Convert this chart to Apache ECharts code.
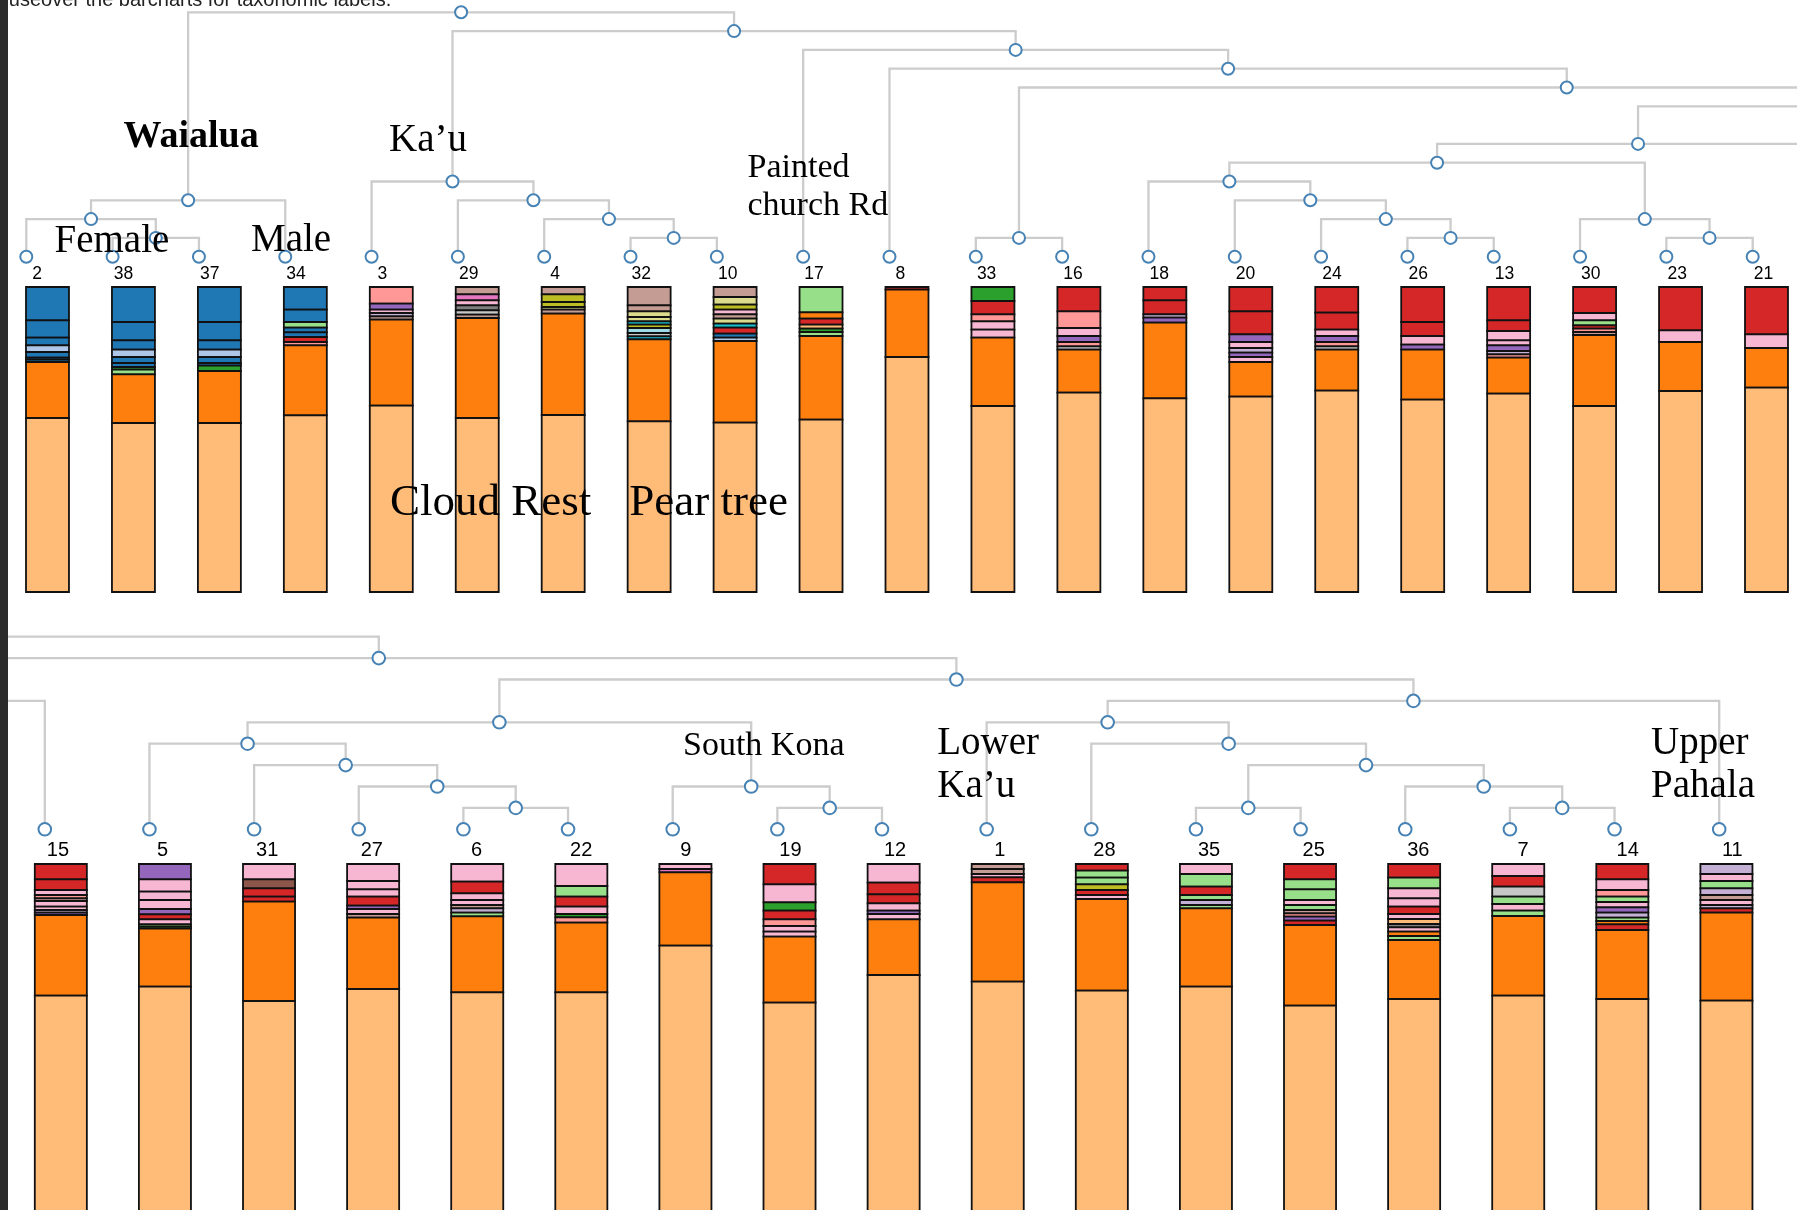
<!DOCTYPE html>
<html>
<head>
<meta charset="utf-8">
<title>Sample clustering with taxonomic composition</title>
<script src="https://cdn.jsdelivr.net/npm/echarts@6/dist/echarts.min.js"></script>
<style>
  html, body { margin: 0; padding: 0; background: #fff; }
  #chart { width: 1797px; height: 1210px; }
</style>
</head>
<body>
<div id="chart"></div>
<script>
// ---- Clustering of the samples (nested pairs of sample ids) ----
const cladeWaialua = [[2, [38, 37]], 34];
const cladeKau = [3, [29, [4, [32, 10]]]];
const cladeEast = [[18, [20, [24, [26, 13]]]], [30, [23, 21]]];
const cladeKona = [[5, [31, [27, [6, 22]]]], [9, [19, 12]]];
const cladeLowerKau = [[1, [28, [[35, 25], [36, [7, 14]]]]], 11];
const clusterTree = [cladeWaialua, [cladeKau, [17, [8, [[33, 16], [[cladeEast, 15], [cladeKona, cladeLowerKau]]]]]]];

// ---- Taxa (category20 palette) ----
const taxonKeys = ['B', 'b', 'O', 'o', 'G', 'g', 'R', 'r', 'P', 'p', 'N', 'n', 'M', 'm', 'K', 'k', 'Y', 'y', 'C', 'c'];
const taxonColors = ['#1f77b4', '#aec7e8', '#ff7f0e', '#ffbb78', '#2ca02c', '#98df8a', '#d62728', '#ff9896',
  '#9467bd', '#c5b0d5', '#8c564b', '#c49c94', '#e377c2', '#f7b6d2', '#7f7f7f', '#c7c7c7',
  '#bcbd22', '#dbdb8d', '#17becf', '#9edae5'];

// ---- Relative abundances per sample, listed from the top of each bar down ----
const topSamples = [2, 38, 37, 34, 3, 29, 4, 32, 10, 17, 8, 33, 16, 18, 20, 24, 26, 13, 30, 23, 21];
const topStacks = [
  [['B', 100], ['B', 52], ['B', 23], ['b', 20], ['B', 17], ['B', 6], ['B', 7], ['O', 168], ['o', 522]],
  [['B', 105], ['B', 55], ['B', 28], ['b', 22], ['B', 18], ['B', 12], ['G', 8], ['g', 14], ['O', 146], ['o', 507]],
  [['B', 105], ['B', 55], ['B', 28], ['b', 22], ['B', 18], ['B', 8], ['G', 16], ['O', 156], ['o', 507]],
  [['B', 68], ['B', 37], ['g', 17], ['B', 14], ['B', 14], ['R', 15], ['r', 10], ['O', 210], ['o', 530]],
  [['r', 50], ['P', 18], ['m', 10], ['p', 10], ['n', 10], ['O', 258], ['o', 559]],
  [['n', 22], ['M', 18], ['m', 15], ['K', 15], ['k', 13], ['n', 10], ['O', 300], ['o', 522]],
  [['n', 22], ['Y', 23], ['Y', 15], ['y', 8], ['n', 12], ['O', 304], ['o', 531]],
  [['n', 55], ['n', 18], ['y', 17], ['y', 13], ['C', 10], ['Y', 10], ['c', 15], ['k', 10], ['C', 9], ['O', 246], ['o', 512]],
  [['n', 30], ['y', 23], ['Y', 15], ['m', 14], ['n', 13], ['y', 15], ['C', 12], ['R', 18], ['B', 12], ['b', 10], ['O', 245], ['o', 508]],
  [['g', 76], ['O', 19], ['R', 18], ['o', 12], ['G', 10], ['g', 12], ['O', 251], ['o', 517]],
  [['R', 8], ['O', 202], ['o', 705]],
  [['G', 42], ['R', 40], ['r', 21], ['m', 25], ['m', 24], ['O', 205], ['o', 558]],
  [['R', 73], ['r', 50], ['m', 24], ['P', 18], ['r', 13], ['k', 10], ['O', 129], ['o', 598]],
  [['R', 40], ['R', 42], ['p', 10], ['P', 15], ['O', 227], ['o', 581]],
  [['R', 73], ['R', 69], ['P', 23], ['m', 18], ['p', 14], ['P', 13], ['m', 15], ['O', 104], ['o', 586]],
  [['R', 77], ['R', 51], ['m', 19], ['P', 18], ['r', 13], ['k', 10], ['O', 123], ['o', 604]],
  [['R', 105], ['R', 42], ['m', 26], ['P', 15], ['O', 150], ['o', 577]],
  [['R', 100], ['R', 32], ['m', 28], ['m', 15], ['P', 17], ['p', 10], ['r', 10], ['O', 108], ['o', 595]],
  [['R', 78], ['m', 22], ['g', 15], ['R', 10], ['r', 10], ['n', 9], ['O', 213], ['o', 558]],
  [['R', 130], ['m', 35], ['O', 147], ['o', 603]],
  [['R', 142], ['m', 41], ['O', 119], ['o', 613]]
];

const bottomSamples = [15, 5, 31, 27, 6, 22, 9, 19, 12, 1, 28, 35, 25, 36, 7, 14, 11];
const bottomStacks = [
  [['R', 46], ['R', 32], ['m', 15], ['r', 10], ['n', 8], ['m', 17], ['m', 10], ['p', 8], ['P', 7], ['O', 242], ['o', 715]],
  [['P', 46], ['m', 37], ['m', 25], ['m', 27], ['P', 16], ['R', 15], ['m', 15], ['g', 7], ['G', 6], ['O', 174], ['o', 742]],
  [['m', 46], ['N', 27], ['R', 25], ['R', 15], ['O', 298], ['o', 699]],
  [['m', 51], ['m', 25], ['m', 22], ['R', 27], ['P', 10], ['m', 15], ['n', 11], ['O', 214], ['o', 735]],
  [['m', 53], ['R', 35], ['m', 20], ['m', 15], ['n', 10], ['p', 13], ['g', 11], ['O', 228], ['o', 725]],
  [['m', 66], ['g', 32], ['R', 30], ['m', 22], ['G', 10], ['r', 16], ['O', 209], ['o', 725]],
  [['m', 15], ['M', 10], ['O', 220], ['o', 865]],
  [['R', 61], ['m', 54], ['G', 25], ['R', 26], ['r', 20], ['m', 17], ['m', 15], ['O', 198], ['o', 694]],
  [['m', 56], ['R', 35], ['R', 27], ['m', 22], ['P', 10], ['m', 16], ['O', 167], ['o', 777]],
  [['n', 15], ['n', 15], ['m', 10], ['R', 15], ['O', 298], ['o', 757]],
  [['R', 20], ['g', 21], ['g', 20], ['Y', 17], ['R', 15], ['m', 12], ['O', 275], ['o', 730]],
  [['m', 30], ['g', 38], ['R', 25], ['g', 15], ['p', 15], ['g', 10], ['O', 235], ['o', 742]],
  [['R', 46], ['g', 30], ['g', 32], ['m', 15], ['g', 15], ['n', 10], ['r', 10], ['P', 12], ['R', 13], ['O', 242], ['o', 685]],
  [['R', 41], ['g', 32], ['m', 30], ['m', 25], ['R', 22], ['m', 15], ['o', 15], ['K', 10], ['m', 13], ['O', 13], ['g', 12], ['O', 177], ['o', 705]],
  [['m', 36], ['R', 32], ['k', 30], ['g', 22], ['m', 20], ['g', 16], ['O', 239], ['o', 715]],
  [['R', 46], ['m', 32], ['r', 20], ['g', 16], ['m', 16], ['P', 16], ['p', 15], ['g', 10], ['O', 10], ['R', 17], ['O', 207], ['o', 705]],
  [['p', 30], ['m', 21], ['g', 22], ['p', 20], ['n', 15], ['m', 15], ['p', 10], ['R', 13], ['O', 264], ['o', 700]]
];

// ---- Dendrogram layout: leaves in order, parents centred over children, height = subtree depth ----
function layoutTree(root) {
  const nodes = [], edges = [], leaves = [];
  function walk(n) {
    if (!Array.isArray(n)) {
      const leaf = { x: leaves.length, h: 0, id: n };
      leaves.push(leaf);
      nodes.push(leaf);
      return leaf;
    }
    const a = walk(n[0]), b = walk(n[1]);
    const node = { x: (a.x + b.x) / 2, h: Math.max(a.h, b.h) + 1 };
    nodes.push(node);
    edges.push([a.x, a.h, node.x, node.h], [b.x, b.h, node.x, node.h]);
    return node;
  }
  walk(root);
  return { nodes, edges, leaves };
}
const layout = layoutTree(clusterTree);
const leafIndexOf = {};
layout.leaves.forEach(l => { leafIndexOf[l.id] = l.x; });

function stackSegments(samples, stacks) {
  const out = [];
  samples.forEach((id, k) => {
    const stack = stacks[k];
    const total = stack.reduce((s, d) => s + d[1], 0);
    let acc = 0;
    stack.forEach(([key, v]) => {
      const top = 1 - acc / total;
      acc += v;
      out.push([leafIndexOf[id], top, 1 - acc / total, taxonKeys.indexOf(key)]);
    });
  });
  return out;
}

// ---- Two views of the same tree: the second one enlarged ----
const CANVAS_H = 1210;
const panels = [
  { first: 0, last: 20, samples: topSamples, stacks: topStacks,
    tree: { left: 26.3, step: 86.32, base: 256.7, rise: 18.8, levels: 13 },
    bars: { left: 26, step: 85.95, top: 287, height: 305 },
    r: 6, labelDy: 17, labelSize: 17.5 },
  { first: 21, last: 37, samples: bottomSamples, stacks: bottomStacks,
    tree: { left: 44.8, step: 104.65, base: 829.3, rise: 21.4, levels: 9 },
    bars: { left: 34.8, step: 104.1, top: 864, height: 370 },
    r: 6.3, labelDy: 21, labelSize: 20 }
];

const grid = [], xAxis = [], yAxis = [], series = [];
panels.forEach((p) => {
  const span = p.last - p.first;
  const treeIdx = grid.length;
  grid.push({ left: p.tree.left, top: p.tree.base - p.tree.rise * p.tree.levels,
    width: p.tree.step * span, height: p.tree.rise * p.tree.levels, outerBoundsMode: 'none' });
  xAxis.push({ type: 'value', gridIndex: treeIdx, min: p.first, max: p.last, show: false });
  yAxis.push({ type: 'value', gridIndex: treeIdx, min: 0, max: p.tree.levels, show: false });

  // bars that run past the bottom edge: keep the grid on the canvas and start the axis higher up
  const visibleH = Math.min(p.bars.height, CANVAS_H - p.bars.top);
  const barIdx = grid.length;
  grid.push({ left: p.bars.left, top: p.bars.top, width: p.bars.step * span, height: visibleH, outerBoundsMode: 'none' });
  xAxis.push({ type: 'value', gridIndex: barIdx, min: p.first, max: p.last, show: false });
  yAxis.push({ type: 'value', gridIndex: barIdx, min: 1 - visibleH / p.bars.height, max: 1, show: false });

  // elbow links
  series.push({
    type: 'custom', xAxisIndex: treeIdx, yAxisIndex: treeIdx, silent: true, clip: false, z: 2,
    data: layout.edges, encode: { x: [0, 2], y: [1, 3] },
    renderItem(params, api) {
      const c = api.coord([api.value(0), api.value(1)]);
      const bend = api.coord([api.value(0), api.value(3)]);
      const par = api.coord([api.value(2), api.value(3)]);
      return { type: 'polyline', shape: { points: [c, bend, par] },
        style: { stroke: '#cccccc', lineWidth: 2.3, fill: null } };
    }
  });
  // nodes
  series.push({
    type: 'custom', xAxisIndex: treeIdx, yAxisIndex: treeIdx, silent: true, clip: false, z: 3,
    data: layout.nodes.map(n => [n.x, n.h]), encode: { x: 0, y: 1 },
    renderItem(params, api) {
      const c = api.coord([api.value(0), api.value(1)]);
      return { type: 'circle', shape: { cx: c[0], cy: c[1], r: p.r },
        style: { fill: '#ffffff', stroke: '#4682b4', lineWidth: 2 } };
    }
  });
  // sample ids
  series.push({
    type: 'custom', xAxisIndex: treeIdx, yAxisIndex: treeIdx, silent: true, clip: false, z: 4,
    data: layout.leaves.map(l => [l.x, l.id]), encode: { x: 0 },
    renderItem(params, api) {
      const c = api.coord([api.value(0) + 0.125, 0]);
      return { type: 'text',
        style: { text: String(api.value(1)), x: c[0], y: c[1] + p.labelDy,
          font: p.labelSize + 'px "Liberation Sans", Arial, sans-serif', fill: '#000',
          align: 'center', textAlign: 'center', verticalAlign: 'middle', textVerticalAlign: 'middle' } };
    }
  });
  // stacked composition bars
  series.push({
    type: 'custom', xAxisIndex: barIdx, yAxisIndex: barIdx, silent: true, clip: false, z: 2,
    data: stackSegments(p.samples, p.stacks), encode: { x: 0, y: [1, 2] },
    renderItem(params, api) {
      const i = api.value(0);
      const a = api.coord([i, api.value(1)]);
      const b = api.coord([i + 0.5, api.value(2)]);
      return { type: 'rect', shape: { x: a[0], y: a[1], width: b[0] - a[0], height: b[1] - a[1] },
        style: { fill: taxonColors[api.value(3)], stroke: '#111111', lineWidth: 1.8 } };
    }
  });
});

// ---- Place names and other text ----
const serif = '"Liberation Serif", "Times New Roman", serif';
function note(text, x, baseline, size, weight) {
  return { type: 'text', z: 100, silent: true,
    style: { text, x, y: baseline - 0.225 * size,
      font: (weight || 'normal') + ' ' + size + 'px ' + serif, fill: '#000',
      align: 'left', textAlign: 'left', verticalAlign: 'middle', textVerticalAlign: 'middle' } };
}
const graphic = [
  { type: 'text', z: 100, silent: true,
    style: { text: 'Mouseover the barcharts for taxonomic labels.', x: -19, y: 5 - 0.25 * 20,
      font: '20px "Liberation Sans", Arial, sans-serif', fill: '#222',
      align: 'left', textAlign: 'left', verticalAlign: 'middle', textVerticalAlign: 'middle' } },
  note('Waialua', 123.5, 146, 38, 'bold'),
  note('Ka\u2019u', 389, 149.3, 39),
  note('Female', 54.5, 250.7, 39),
  note('Male', 251, 250, 39),
  note('Painted', 747.5, 175.7, 34),
  note('church Rd', 747.5, 213.3, 34),
  note('Cloud Rest', 390, 513, 45),
  note('Pear tree', 629.3, 513, 45),
  note('South Kona', 683, 754, 34),
  note('Lower', 937.3, 752.3, 39),
  note('Ka\u2019u', 937.3, 795.7, 39),
  note('Upper', 1651, 752.3, 39),
  note('Pahala', 1651, 795.7, 39),
  { type: 'rect', z: 110, silent: true, shape: { x: 0, y: 0, width: 8, height: CANVAS_H },
    style: { fill: '#2b2b2b' } }
];

const chart = echarts.init(document.getElementById('chart'), null, { renderer: 'canvas' });
chart.setOption({
  animation: false,
  backgroundColor: '#ffffff',
  grid, xAxis, yAxis, series, graphic
});
</script>
</body>
</html>
